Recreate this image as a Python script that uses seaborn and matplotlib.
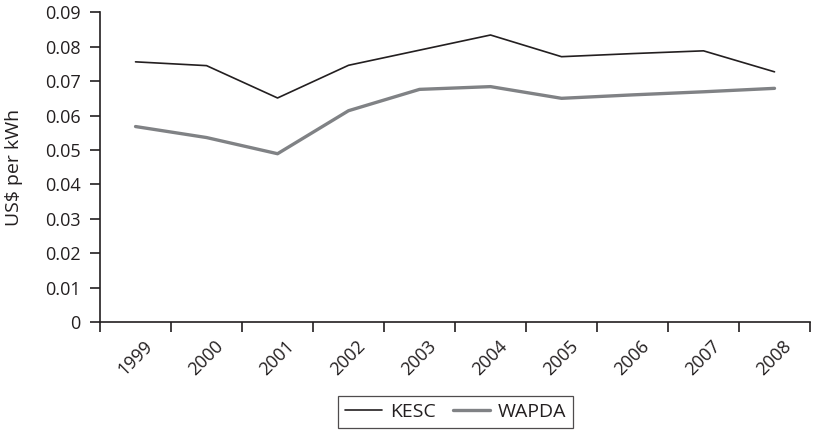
import pandas as pd
import matplotlib.pyplot as plt
import seaborn as sns

# values
years = ["1999", "2000", "2001", "2002", "2003", "2004", "2005", "2006", "2007", "2008"]
kesc = [0.0756, 0.0745, 0.0651, 0.0746, 0.0790, 0.0834, 0.0771, 0.0780, 0.0788, 0.0727]
wapda = [0.0568, 0.0536, 0.0489, 0.0614, 0.0676, 0.0684, 0.0650, 0.0660, 0.0669, 0.0679]

df = pd.DataFrame({"pos": range(len(years)), "Year": years, "KESC": kesc, "WAPDA": wapda})

sns.set_style("ticks")
plt.rcParams["font.family"] = ["Open Sans", "DejaVu Sans"]
ink = "#231f20"

fig = plt.figure(figsize=(8.14, 4.30), dpi=100)
ax = fig.add_axes([0.1229, 0.2512, 0.8722, 0.7202])

sns.lineplot(data=df, x="pos", y="KESC", ax=ax, color=ink, linewidth=1.2, label="KESC")
sns.lineplot(data=df, x="pos", y="WAPDA", ax=ax, color="#808285", linewidth=2.4, label="WAPDA")

ax.set_xlim(-0.5, len(years) - 0.5)
ax.set_ylim(0, 0.09)
ax.set_yticks([i / 100 for i in range(10)])
ax.set_yticklabels(["0"] + [f"0.0{i}" for i in range(1, 10)])

# ticks on the category borders, labels in the middle
ax.set_xticks([i - 0.5 for i in range(len(years) + 1)])
ax.set_xticklabels([])
ax.set_xticks(range(len(years)), minor=True)
ax.set_xticklabels(years, minor=True, rotation=45, ha="center")
ax.tick_params(axis="x", which="major", length=7, width=1.2, direction="out", color=ink)
ax.tick_params(axis="x", which="minor", length=0, pad=11, labelsize=13, labelcolor=ink)
ax.tick_params(axis="y", length=7, width=1.2, direction="out", color=ink, labelsize=13,
               labelcolor=ink, pad=7)

ax.set_xlabel("")
ax.set_ylabel("US$ per kWh", fontsize=14, color=ink)
ax.yaxis.set_label_coords(-0.1085, 0.5)

for side in ["top", "right"]:
    ax.spines[side].set_visible(False)
for side in ["left", "bottom"]:
    ax.spines[side].set_color(ink)
    ax.spines[side].set_linewidth(1.2)

leg = ax.legend(loc="center", bbox_to_anchor=(0.5596, 0.042), bbox_transform=fig.transFigure,
                ncol=2, frameon=True, fancybox=False, fontsize=14, handlelength=1.9,
                columnspacing=0.9, handletextpad=0.4, borderpad=0.35)
leg.get_frame().set_edgecolor(ink)
leg.get_frame().set_linewidth(0.9)
for t in leg.get_texts():
    t.set_color(ink)

fig.savefig("out.png", dpi=100)
